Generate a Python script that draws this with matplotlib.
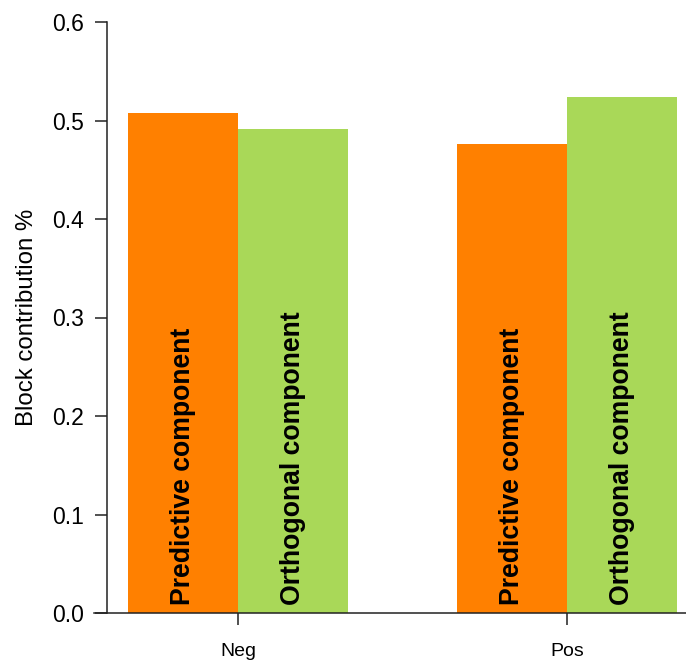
import numpy as np
import matplotlib
matplotlib.use('Agg')
import matplotlib.pyplot as plt

plt.rcParams['font.family'] = ['Liberation Sans', 'DejaVu Sans']

groups = ['Neg', 'Pos']
predictive = [0.508, 0.476]
orthogonal = [0.491, 0.524]
series_names = ['Predictive component', 'Orthogonal component']
colors = ['#FF8000', '#A9D858']

x = np.arange(len(groups))
w = 0.334

fig = plt.figure(figsize=(6.86, 6.61), dpi=100)
ax = fig.add_axes([94 / 686, 48 / 661, 592 / 686, 591 / 661])

for vals, off, name, col in zip([predictive, orthogonal], [-w / 2, w / 2], series_names, colors):
    ax.bar(x + off, vals, width=w, color=col, edgecolor='none')
    for xi in x:
        ax.text(xi + off, 0.008, name, rotation=90, ha='center', va='bottom',
                fontsize=19.2, fontweight='bold', color='black')

ax.set_xlim(-0.4377, 1.3617)
ax.set_ylim(0, 0.6)
ax.set_yticks(np.arange(0, 0.61, 0.1))
ax.set_yticklabels([f'{v:.1f}' for v in np.arange(0, 0.61, 0.1)])
ax.set_xticks(x)
ax.set_xticklabels(groups)

ax.spines['top'].set_visible(False)
ax.spines['right'].set_visible(False)
ax.spines['left'].set_position(('data', -0.398))
for s in ['left', 'bottom']:
    ax.spines[s].set_linewidth(1.1)
    ax.spines[s].set_color('#222222')

ax.tick_params(axis='y', labelsize=16.5, length=8.6, width=1.1, pad=8, color='#222222')
ax.tick_params(axis='x', labelsize=14, length=8.6, width=1.1, pad=13, color='#222222')
ax.set_ylabel('Block contribution %', fontsize=17.3, labelpad=10)

plt.savefig('out.png', dpi=100)
